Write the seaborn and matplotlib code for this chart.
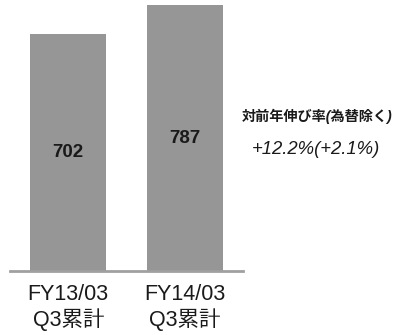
import matplotlib
matplotlib.use("Agg")
import matplotlib.pyplot as plt
import seaborn as sns
import pandas as pd

categories = ["FY13/03\nQ3累計", "FY14/03\nQ3累計"]
values = [702, 787]
growth_title = "対前年伸び率(為替除く)"
growth_text = "+12.2%(+2.1%)"

sns.set_theme(style="white")
plt.rcParams["font.family"] = ["Liberation Sans", "Noto Sans CJK JP", "DejaVu Sans"]

df = pd.DataFrame({"period": categories, "value": values})

fig = plt.figure(figsize=(3.96, 3.35), dpi=100)
ax = fig.add_axes([10 / 396, 64 / 335, 233 / 396, 271 / 335])

sns.barplot(data=df, x="period", y="value", color="#969696", width=0.65,
            saturation=1, ax=ax, edgecolor="none")

ax.set_xlim(-0.5, 1.5)
ax.set_ylim(0, 802)
ax.set_xlabel("")
ax.set_ylabel("")
ax.set_yticks([])
for side in ["left", "right", "top"]:
    ax.spines[side].set_visible(False)
ax.spines["bottom"].set_color("#a0a0a0")
ax.spines["bottom"].set_linewidth(2)
ax.tick_params(axis="x", length=0, pad=9, labelsize=15.5, labelcolor="#1a1a1a")
for lbl in ax.get_xticklabels():
    lbl.set_linespacing(1.2)

ax.bar_label(ax.containers[0], labels=[str(v) for v in values], label_type="center",
             fontsize=13.5, fontweight="bold", color="#1a1a1a")

fig.text(317 / 396, 1 - 116 / 335, growth_title, ha="center", va="center",
         fontsize=10.2, fontweight="bold", style="italic", color="#1a1a1a")
fig.text(316 / 396, 1 - 150 / 335, growth_text, ha="center", va="center",
         fontsize=13.3, style="italic", color="#1a1a1a")

fig.savefig("out.png", dpi=100)
